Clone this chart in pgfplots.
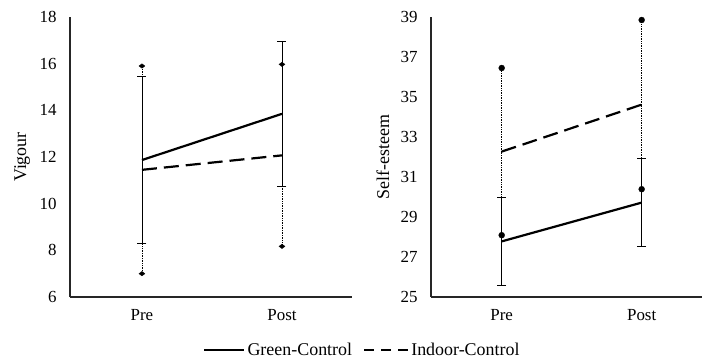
\documentclass[border=0pt]{standalone}
\usepackage{pgfplots}
\pgfplotsset{compat=1.18}
\usepackage{fontspec}
\setmainfont{Liberation Serif}
\pgfplotsset{
  common/.style={
    scale only axis,
    width=282bp, height=280bp,
    axis x line=bottom, axis y line=left,
    axis line style={line width=1.2bp, -, black!85},
    major tick length=0pt,
    xtick={0,1}, xticklabels={Pre,Post},
    tick label style={font=\fontsize{17}{20}\selectfont},
    /pgf/number format/assume math mode=true,
    xticklabel style={yshift=-9bp},
    yticklabel style={xshift=-10bp},
    every axis y label/.style={at={(axis description cs:0,0.5)}, rotate=90, anchor=center, yshift=48bp, font=\fontsize{18}{20}\selectfont},
    clip=false,
  },
  green/.style={line width=2.2bp, black, no markers,
    error bars/y dir=both, error bars/y explicit,
    error bars/error bar style={line width=0.7bp, solid, black},
    error bars/error mark=-, error bars/error mark options={line width=0.7bp, mark size=4.5bp, rotate=90, solid}},
  indoorL/.style={line width=2.2bp, black, dash pattern=on 15bp off 7bp, no markers,
    error bars/y dir=both, error bars/y explicit,
    error bars/error bar style={line width=0.7bp, densely dotted, black},
    error bars/error mark=diamond*, error bars/error mark options={mark size=3bp, solid, fill=black, line width=0.3bp}},
  indoorR/.style={line width=2.2bp, black, dash pattern=on 15bp off 7bp, no markers,
    error bars/y dir=both, error bars/y explicit,
    error bars/error bar style={line width=0.7bp, densely dotted, black},
    error bars/error mark=*, error bars/error mark options={mark size=3bp, solid, fill=black, line width=0.3bp}},
}
\begin{document}
\begin{tikzpicture}
\useasboundingbox (0,0) rectangle (702bp,360bp);
\begin{axis}[common, at={(70bp,63bp)}, anchor=south west,
  xmin=-0.514, xmax=1.5, ymin=6, ymax=18, ytick={6,8,...,18},
  ylabel={Vigour},
  legend columns=2,
  legend style={at={(axis description cs:1.037,-0.189)}, anchor=center, draw=none, fill=none,
    font=\fontsize{18}{20}\selectfont, inner sep=0pt,
    /tikz/every even column/.append style={column sep=9bp}},
]
\addplot[indoorL, forget plot] coordinates {(0,11.45) +- (0,4.45) (1,12.07) +- (0,3.9)};
\addplot[green, forget plot] coordinates {(0,11.87) +- (0,3.57) (1,13.85) +- (0,3.12)};
\addlegendimage{legend image code/.code={\draw[line width=2.2bp, black] (0bp,0bp) -- (40bp,0bp);}}
\addlegendentry{Green-Control}
\addlegendimage{legend image code/.code={\draw[line width=2.2bp, black, dash pattern=on 10bp off 7bp] (0bp,0bp) -- (44bp,0bp);}}
\addlegendentry{Indoor-Control}
\end{axis}
\begin{axis}[common, at={(431bp,63bp)}, anchor=south west, width=271bp,
  xmin=-0.505, xmax=1.431, ymin=25, ymax=39, ytick={25,27,...,39},
  ylabel={Self-esteem},
]
\addplot[indoorR] coordinates {(0,32.27) +- (0,4.18) (1,34.62) +- (0,4.23)};
\addplot[green] coordinates {(0,27.78) +- (0,2.22) (1,29.72) +- (0,2.2)};
\end{axis}
\end{tikzpicture}
\end{document}
